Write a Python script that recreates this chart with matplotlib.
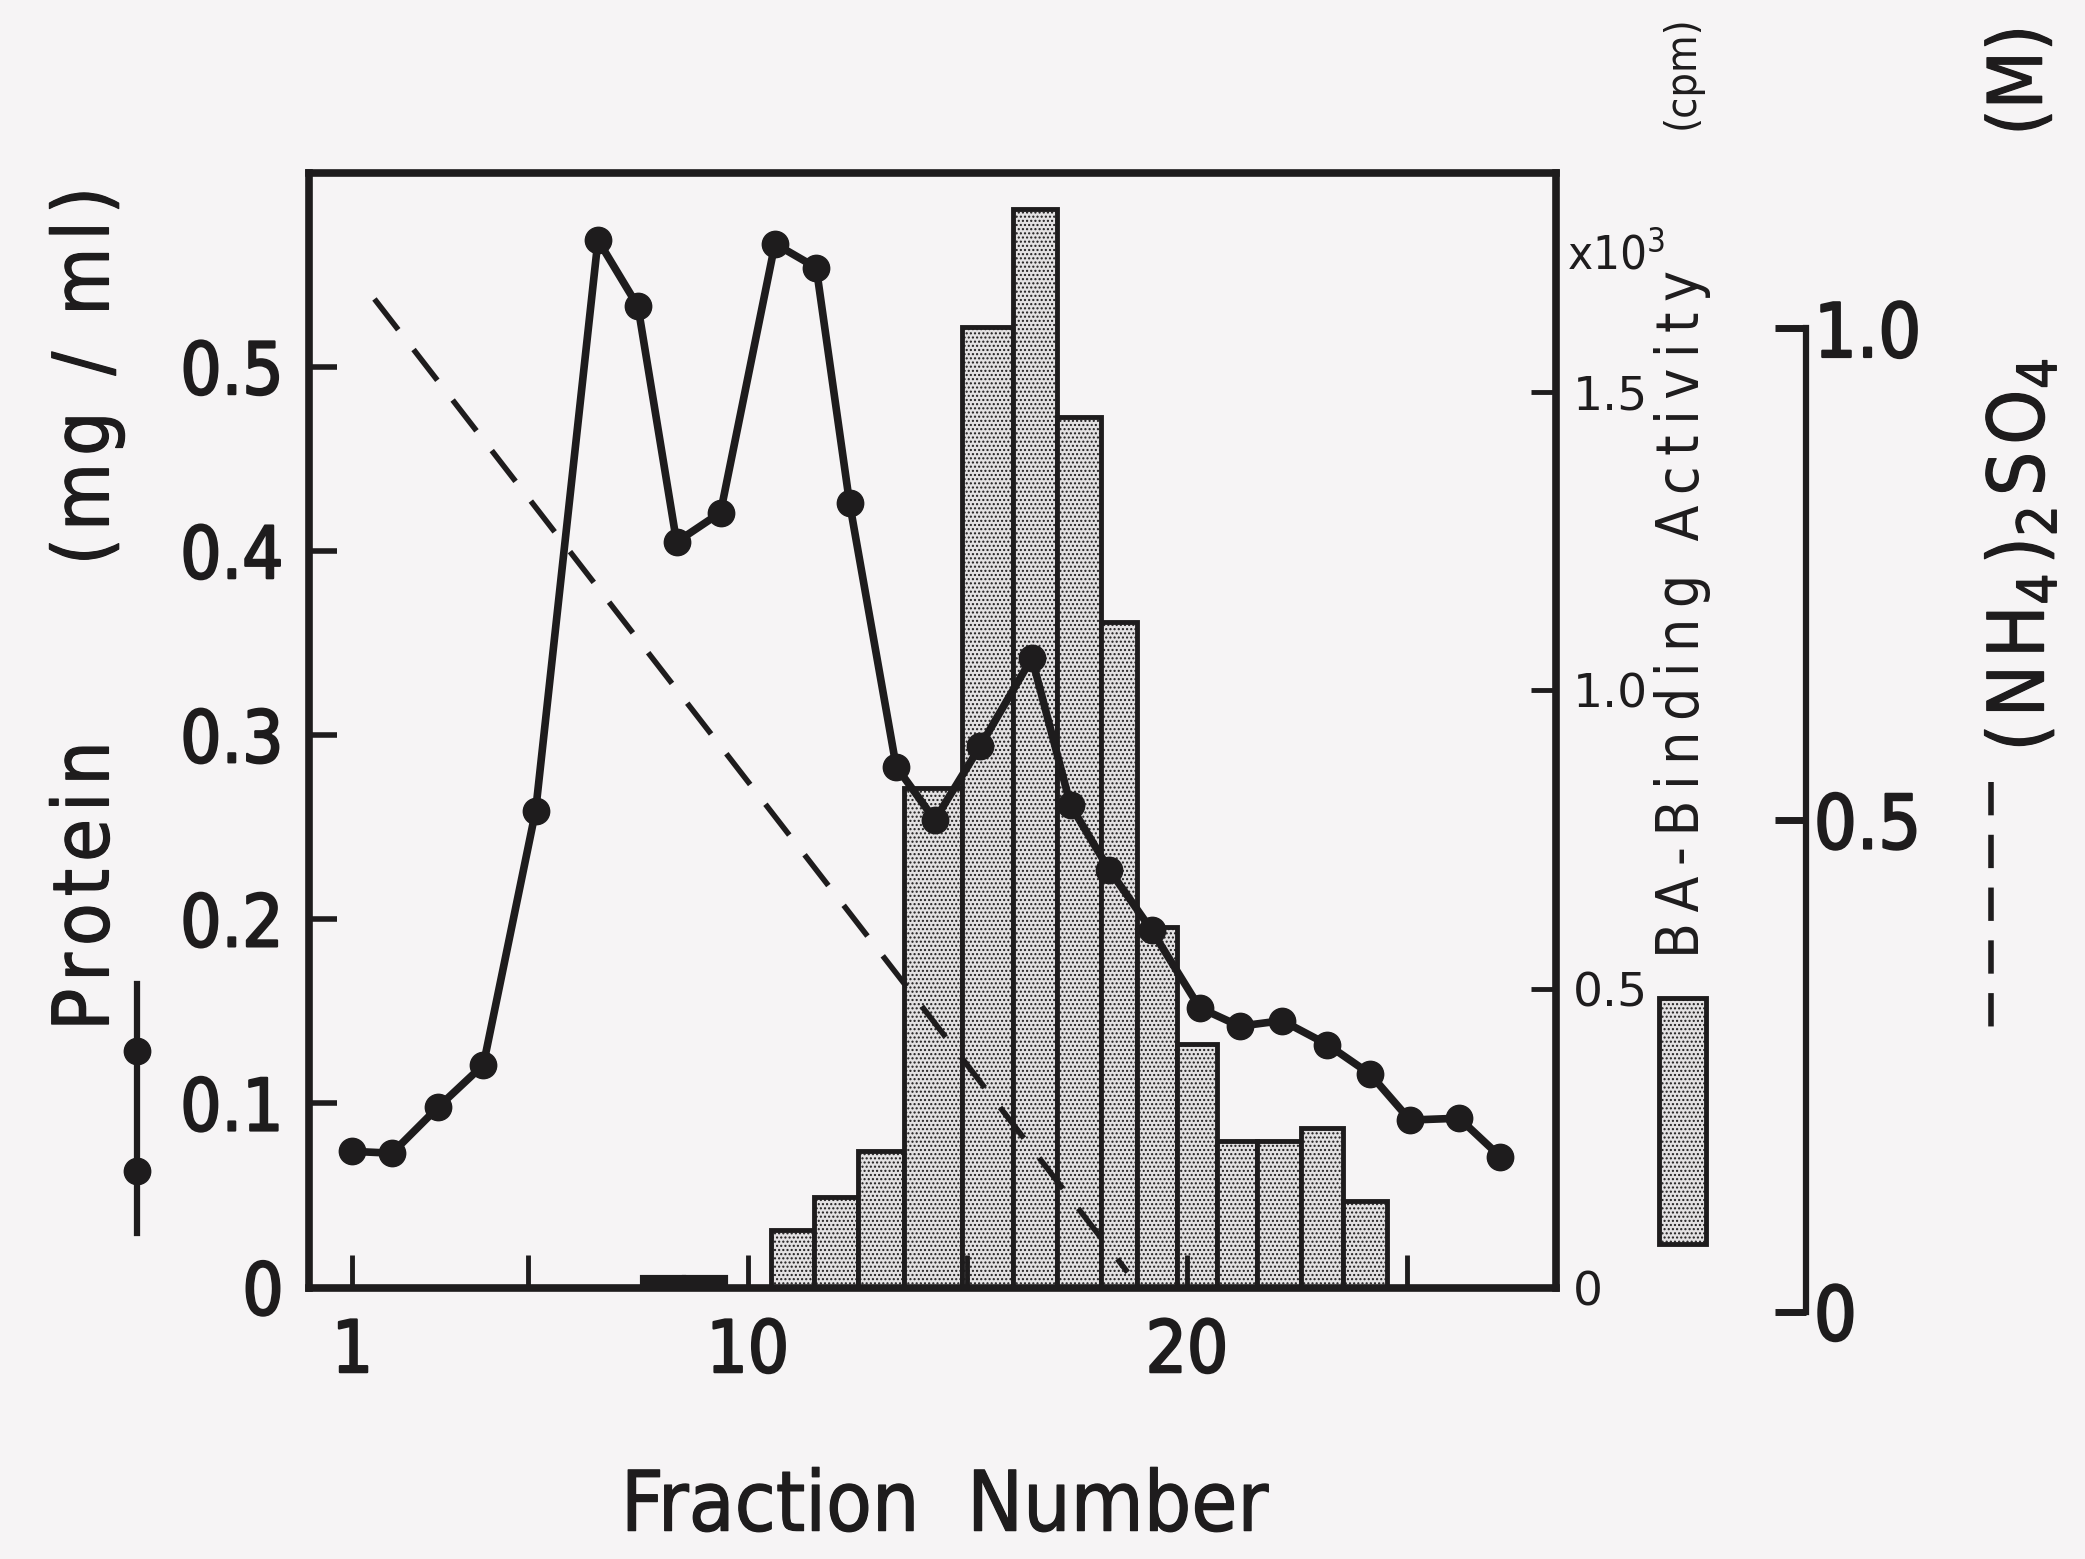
import numpy as np
from matplotlib import pyplot as plt
from matplotlib import patheffects as pe
from matplotlib.lines import Line2D
from matplotlib.patches import Rectangle

#Protein elution profile, fraction positions
proteinX = [1.0, 1.9, 2.95, 3.98, 5.17, 6.59, 7.5, 8.38, 9.38, 10.62, 11.56, 12.32, 13.38, 14.26,
            15.29, 16.47, 17.35, 18.23, 19.2, 20.29, 21.2, 22.17, 23.2, 24.17, 25.08, 26.2, 27.14]
proteinY = [0.074, 0.073, 0.098, 0.121, 0.259, 0.569, 0.533, 0.405, 0.421, 0.567, 0.554, 0.426, 0.283, 0.254,
            0.294, 0.342, 0.262, 0.227, 0.194, 0.152, 0.142, 0.145, 0.132, 0.116, 0.091, 0.092, 0.071]

#BA binding activity (x10^3 cpm), bar edges in fraction units
barEdges = [10.53, 11.5, 12.5, 13.56, 14.88, 16.03, 17.05, 18.05, 18.86, 19.77, 20.68, 21.59, 22.59, 23.56, 24.56]
barHeights = [0.096, 0.151, 0.229, 0.837, 1.608, 1.806, 1.457, 1.114, 0.604, 0.408, 0.245, 0.245, 0.267, 0.145]
lowEdges = [7.6, 8.55, 9.5]
lowHeights = [0.018, 0.018]

#(NH4)2SO4 gradient (M)
saltX = [1.5, 18.65]
saltY = [1.03, 0.04]

xTicks = [1, 5, 10, 15, 20, 25]
xTickLabels = ["1", "", "10", "", "20", ""]
proteinTicks = [0, 0.1, 0.2, 0.3, 0.4, 0.5]
proteinTickLabels = ["0", "0.1", "0.2", "0.3", "0.4", "0.5"]
baTicks = [0, 0.5, 1.0, 1.5]
baTickLabels = ["0", "0.5", "1.0", "1.5"]
saltTicks = [0, 0.5, 1.0]
saltTickLabels = ["0", "0.5", "1.0"]

plt.rcParams['font.family'] = ['DejaVu Sans']
plt.rcParams['font.stretch'] = 'condensed'
plt.rcParams['mathtext.default'] = 'regular'
plt.rcParams['hatch.linewidth'] = 1.0

HS = "\u200a"  #hair space, the scanned labels are letter-spaced
TS = "\u2009"
def spaced(s, sep=HS):
    return sep.join(s)

ink = '#1e1c1d'
bg = '#f6f4f5'
barFill = '#e3e1e2'
heavy = [pe.withStroke(linewidth=1.6, foreground=ink)]
medium = [pe.withStroke(linewidth=0.9, foreground=ink)]

fig = plt.figure(figsize=(20.85, 15.59), dpi=100)
fig.patch.set_facecolor(bg)

L, B, W, H = 0.148, 0.1741, 0.5982, 0.7150
saltX0, saltB, saltT = 0.866, 0.1587, 0.7893

ax = fig.add_axes([L, B, W, H])
axBa = ax.twinx()
axSalt = ax.twinx()
axBa.set_zorder(1)
axSalt.set_zorder(2)
ax.set_zorder(3)
for a in (ax, axBa, axSalt):
    a.patch.set_visible(False)

#bars
widths = np.diff(barEdges)
axBa.bar(barEdges[:-1], barHeights, width=widths, align='edge', facecolor=barFill,
         edgecolor=ink, hatch='....', linewidth=3.5)
axBa.bar(lowEdges[:-1], lowHeights, width=np.diff(lowEdges), align='edge', facecolor=ink,
         edgecolor=ink, linewidth=3)
axBa.set_ylim(0, 1.866)
axBa.set_yticks(baTicks)
axBa.set_yticklabels(baTickLabels)
axBa.tick_params(axis='y', direction='in', length=18, width=3.5, labelsize=34, pad=12, colors=ink)
for lab in axBa.get_yticklabels():
    lab.set_fontstretch('normal')
for s in axBa.spines.values():
    s.set_visible(False)

#salt gradient, y range chosen so it lines up with the separate scale on the right
lo = (B - saltB) / (saltT - saltB)
hi = (B + H - saltB) / (saltT - saltB)
axSalt.plot(saltX, saltY, color=ink, linewidth=4, dashes=(7, 4.5))
axSalt.set_ylim(lo, hi)
axSalt.set_yticks([])
for s in axSalt.spines.values():
    s.set_visible(False)

#protein
ax.plot(proteinX, proteinY, color=ink, linewidth=5.5, marker='o', markersize=19)
ax.set_xlim(0, 28.4)
ax.set_ylim(0, 0.6055)
ax.set_xticks(xTicks)
ax.set_xticklabels(xTickLabels)
ax.set_yticks(proteinTicks)
ax.set_yticklabels(proteinTickLabels)
ax.tick_params(axis='x', direction='in', length=24, width=3.5, labelsize=52, pad=22, colors=ink)
ax.tick_params(axis='y', direction='in', length=20, width=4, labelsize=52, pad=18, colors=ink)
for lab in ax.get_yticklabels() + ax.get_xticklabels():
    lab.set_path_effects(heavy)
for s in ax.spines.values():
    s.set_linewidth(5.5)
    s.set_color(ink)

#separate (NH4)2SO4 scale
ax3 = fig.add_axes([saltX0 - 0.02, saltB, 0.02, saltT - saltB])
ax3.patch.set_visible(False)
ax3.set_ylim(0, 1)
ax3.set_xticks([])
for k in ('left', 'top', 'bottom'):
    ax3.spines[k].set_visible(False)
ax3.spines['right'].set_linewidth(4.5)
ax3.spines['right'].set_color(ink)
ax3.yaxis.tick_right()
ax3.set_yticks(saltTicks)
ax3.set_yticklabels(saltTickLabels)
ax3.tick_params(axis='y', direction='in', length=22, width=5, labelsize=54, pad=6, colors=ink)
for lab in ax3.get_yticklabels():
    lab.set_path_effects(heavy)

#axis titles
fig.text(0.453, 1 - 1133 / 1172, "Fraction  Number", ha='center', va='center', fontsize=60, color=ink,
         path_effects=medium)
fig.text(65 / 1568, 1 - 775 / 1172, spaced("Protein"), rotation=90, ha='center', va='bottom',
         fontsize=56, color=ink, path_effects=medium)
fig.text(65 / 1568, 1 - 425 / 1172, spaced("(mg / ml)"), rotation=90, ha='center', va='bottom',
         fontsize=56, color=ink, path_effects=medium)
fig.text(1265 / 1568, 1 - 720 / 1172, spaced("BA-Binding", TS) + "  " + spaced("Activity", TS), rotation=90,
         ha='center', va='bottom', fontsize=42, color=ink)
fig.text(1265 / 1568, 1 - 97 / 1172, "(cpm)", rotation=90, ha='center', va='bottom', fontsize=31, color=ink)
fig.text(1215 / 1568, 1 - 192 / 1172, "x10$^3$", ha='center', va='center', fontsize=34, color=ink)
fig.text(1520 / 1568, 1 - 565 / 1172, HS.join(["(", "N", "H$_4$", ")$_2$", "S", "O$_4$"]), rotation=90,
         ha='center', va='bottom', fontsize=56, color=ink, path_effects=medium)
fig.text(1520 / 1568, 1 - 102 / 1172, "(M)", rotation=90, ha='center', va='bottom', fontsize=54,
         color=ink, path_effects=medium)

#legend keys next to the titles
px = 103 / 1568
fig.add_artist(Line2D([px, px], [1 - 740 / 1172, 1 - 927 / 1172], color=ink, linewidth=4.5))
fig.add_artist(Line2D([px, px], [1 - 790 / 1172, 1 - 880 / 1172], color=ink, linestyle='none',
                      marker='o', markersize=19))
fig.add_artist(Rectangle((1248 / 1568, 1 - 935 / 1172), 35 / 1568, 185 / 1172, facecolor=barFill,
                         edgecolor=ink, hatch='....', linewidth=3.5))
dx = 1497 / 1568
fig.add_artist(Line2D([dx, dx], [1 - 588 / 1172, 1 - 777 / 1172], color=ink, linewidth=4,
                      dashes=(6, 3.5)))

fig.savefig("out.png", dpi=100, facecolor=bg)
